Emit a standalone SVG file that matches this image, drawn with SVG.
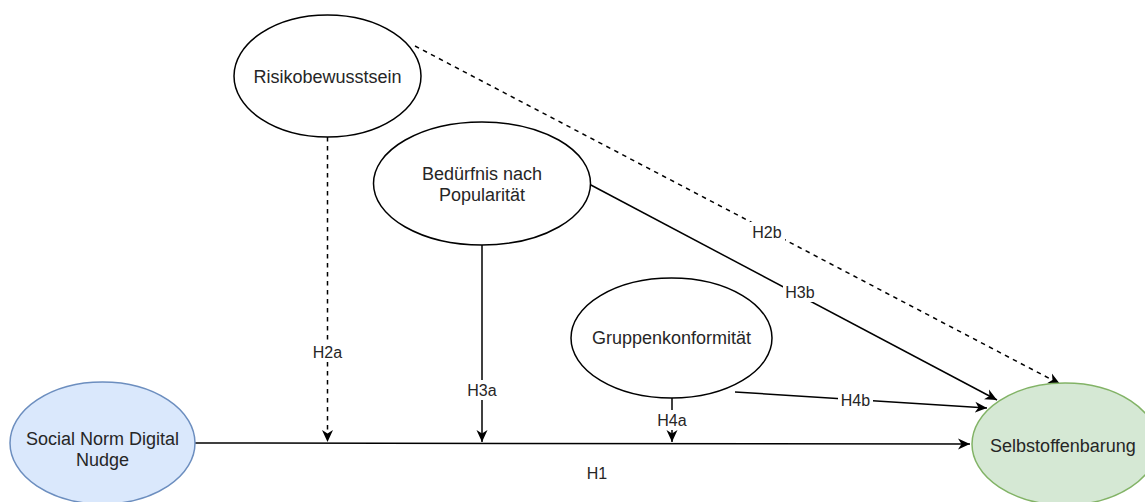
<svg xmlns="http://www.w3.org/2000/svg" width="1145" height="502" viewBox="0 0 1145 502">
<style>
.node{fill:#ffffff;stroke:#000000;stroke-width:1.5}
.blue{fill:#dae8fc;stroke:#6c8ebf}
.green{fill:#d5e8d4;stroke:#82b366}
.t{font-family:"Liberation Sans",Arial,sans-serif;font-size:18px;fill:#262626;text-anchor:middle}
.l{font-family:"Liberation Sans",Arial,sans-serif;font-size:16px;fill:#262626;text-anchor:middle}
.e{fill:none;stroke:#000000;stroke-width:1.5}
.d{stroke-dasharray:4.5 4.5}
.bg{fill:#ffffff}
</style>
<defs>
<marker id="arr" markerUnits="userSpaceOnUse" markerWidth="14" markerHeight="12" viewBox="0 0 14 12" refX="12" refY="6" orient="auto">
<path d="M0,0.5 L12,6 L0,11.5 L3.5,6 Z" fill="#000000"/>
</marker>
</defs>
<g id="connectors">
<path class="e" d="M195,443 L970,444" marker-end="url(#arr)"/>
<path class="e d" d="M327.5,137 L327.5,442" marker-end="url(#arr)"/>
<path class="e" d="M482,245 L482,442" marker-end="url(#arr)"/>
<path class="e" d="M672,398 L672,442" marker-end="url(#arr)"/>
<path class="e d" d="M415,46 L1060,384" marker-end="url(#arr)"/>
<path class="e" d="M589,184 L997,400" marker-end="url(#arr)"/>
<path class="e" d="M735,392 L987,408" marker-end="url(#arr)"/>
<rect class="bg" x="580" y="463" width="34" height="20"/>
<text class="l" x="597" y="479">H1</text>
<rect class="bg" x="310" y="342" width="35" height="20"/>
<text class="l" x="327.5" y="358">H2a</text>
<rect class="bg" x="465" y="380" width="35" height="20"/>
<text class="l" x="482" y="396">H3a</text>
<rect class="bg" x="655" y="410" width="35" height="20"/>
<text class="l" x="672" y="426">H4a</text>
<rect class="bg" x="750" y="222" width="35" height="20"/>
<text class="l" x="767" y="238">H2b</text>
<rect class="bg" x="783" y="282" width="35" height="20"/>
<text class="l" x="800" y="298">H3b</text>
<rect class="bg" x="838" y="390" width="35" height="20"/>
<text class="l" x="855.5" y="406">H4b</text>
</g>
<g id="risiko">
<ellipse class="node" cx="327.5" cy="76" rx="93.5" ry="61"/>
<text class="t" x="327.5" y="83">Risikobewusstsein</text>
</g>
<g id="beduerfnis">
<ellipse class="node" cx="482" cy="183.5" rx="108.5" ry="61.5"/>
<text class="t" x="482" y="180">Bedürfnis nach</text>
<text class="t" x="482" y="201">Popularität</text>
</g>
<g id="gruppe">
<ellipse class="node" cx="671.5" cy="338" rx="100.5" ry="60"/>
<text class="t" x="671.5" y="344">Gruppenkonformität</text>
</g>
<g id="nudge">
<ellipse class="node blue" cx="102.5" cy="443" rx="92.5" ry="61"/>
<text class="t" x="102.5" y="445">Social Norm Digital</text>
<text class="t" x="102.5" y="466">Nudge</text>
</g>
<g id="selbst">
<ellipse class="node green" cx="1065" cy="444" rx="93" ry="61"/>
<text class="t" x="1063" y="452">Selbstoffenbarung</text>
</g>
</svg>
